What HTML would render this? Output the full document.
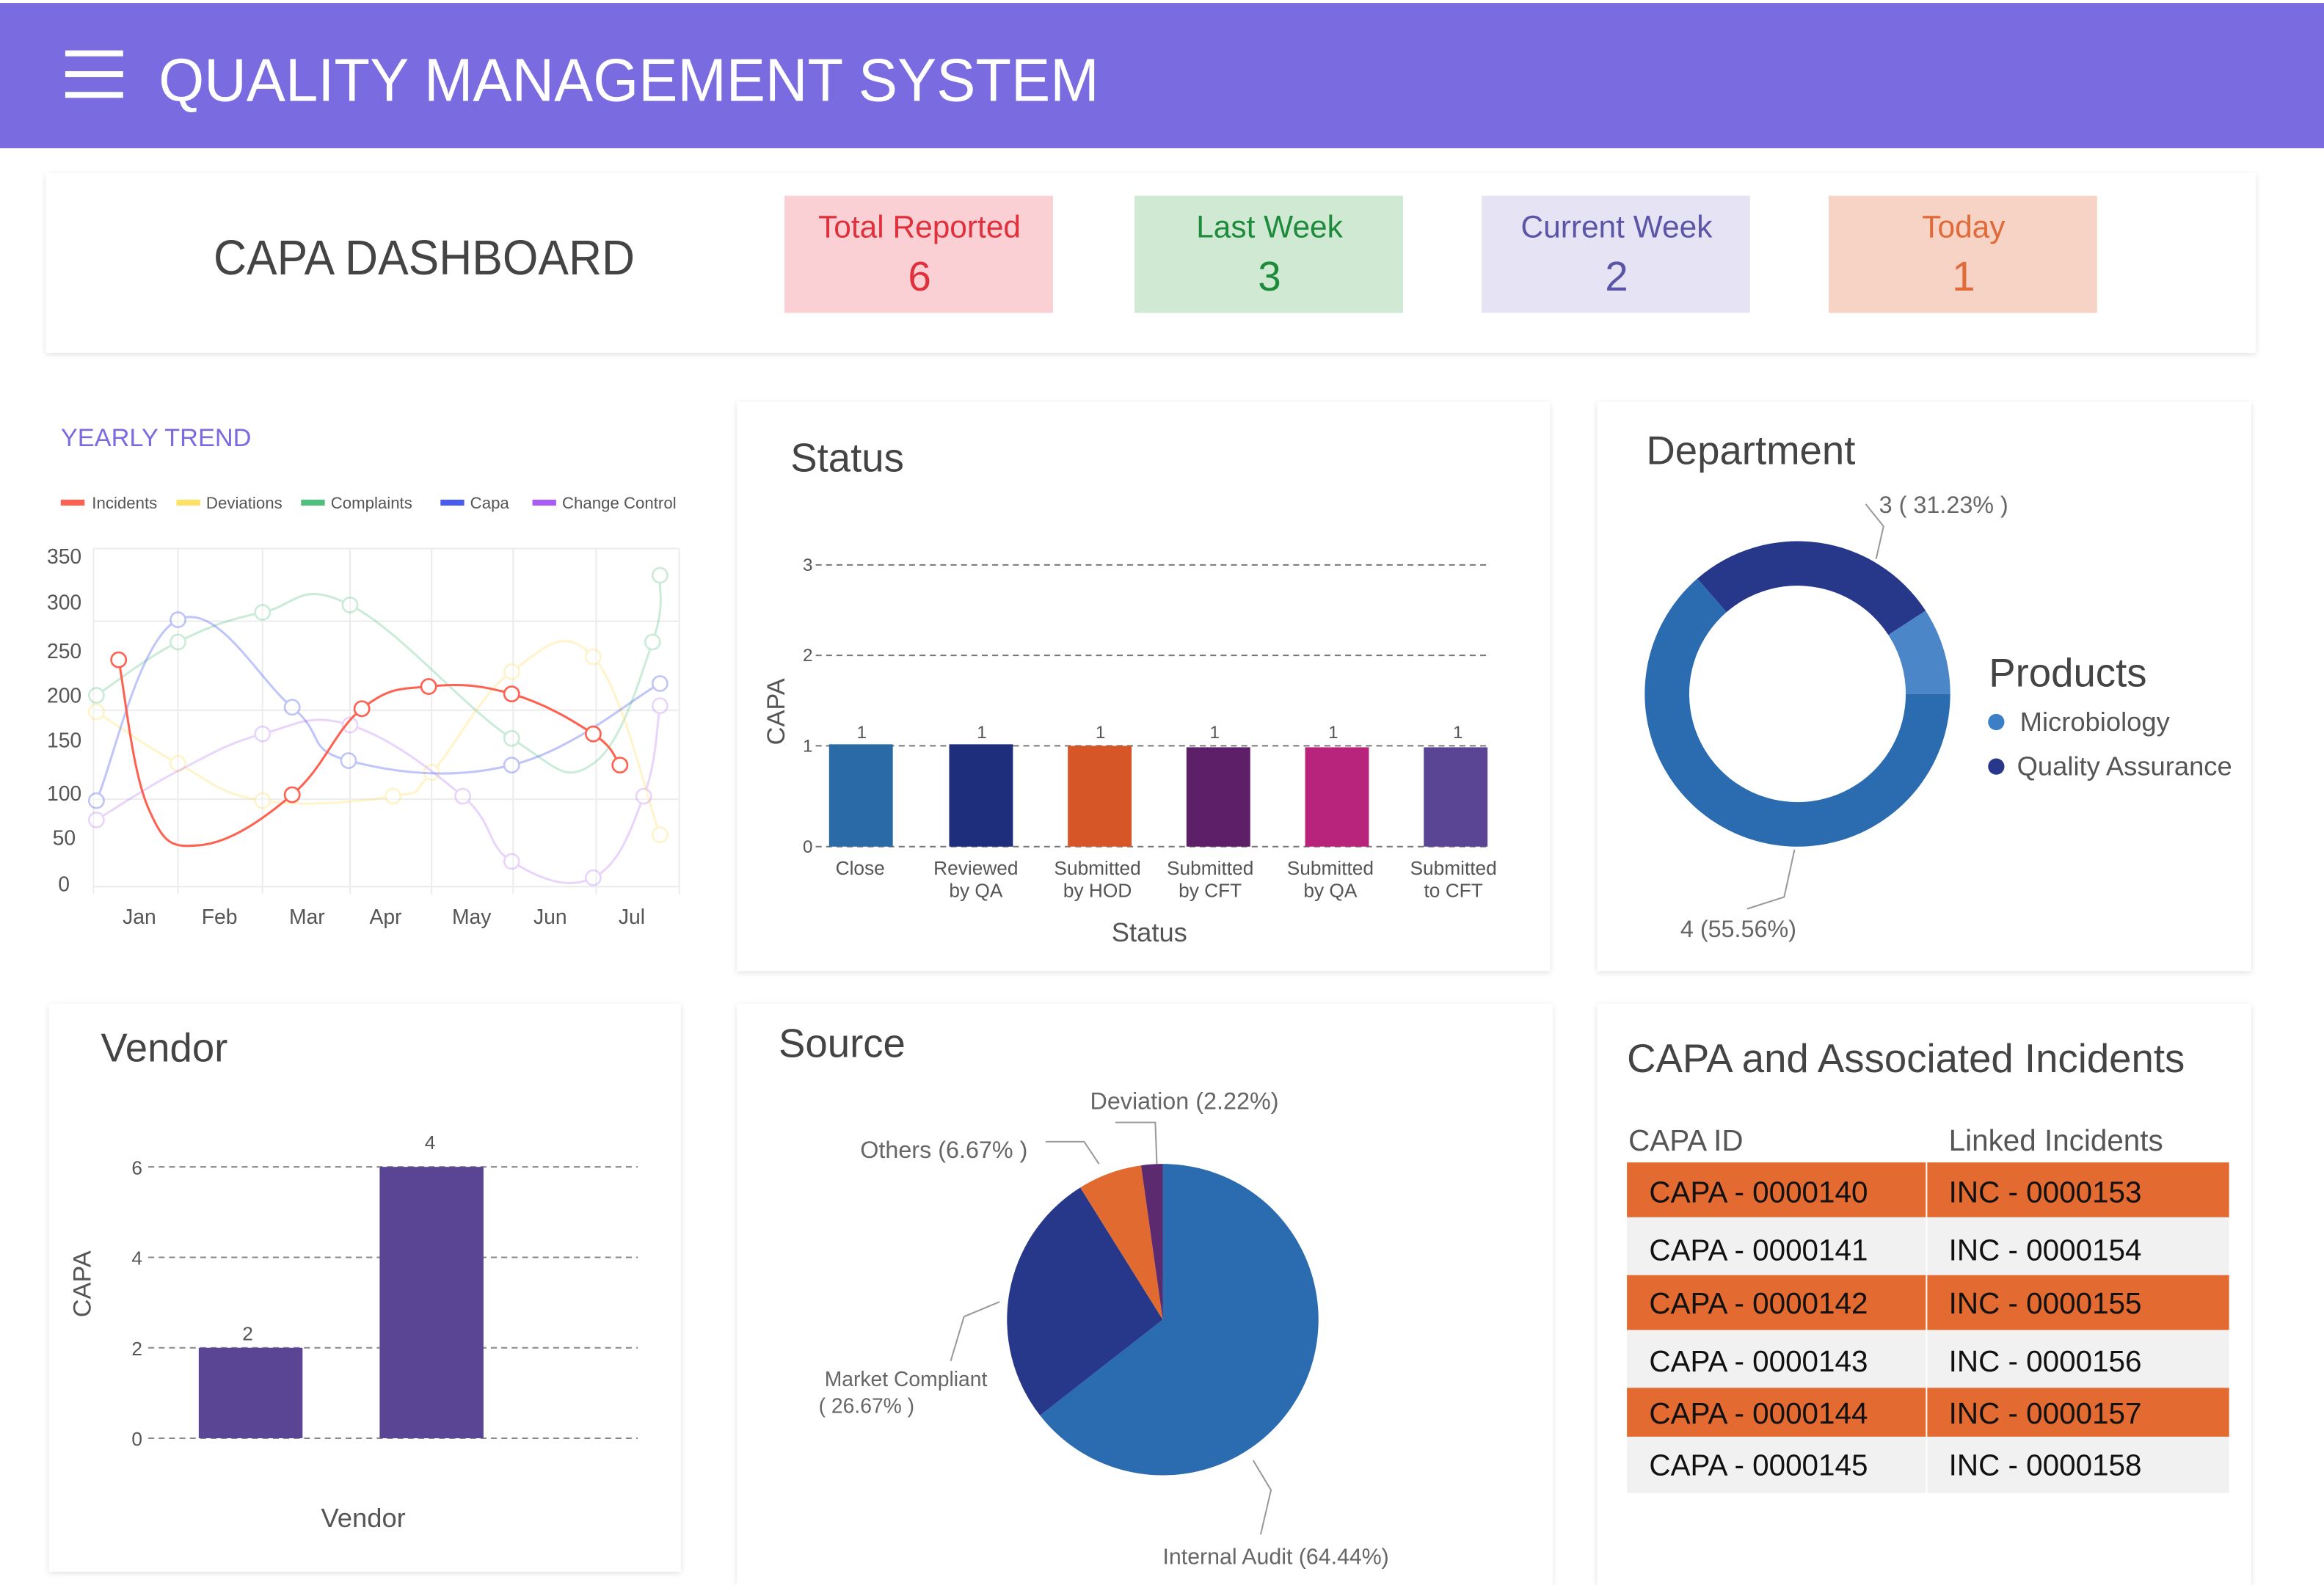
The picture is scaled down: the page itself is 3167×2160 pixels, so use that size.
<!DOCTYPE html>
<html><head><meta charset="utf-8"><style>
html,body{margin:0;padding:0;background:#fff;width:3167px;height:2160px;overflow:hidden}
svg{display:block}
text{font-family:"Liberation Sans",sans-serif}
</style></head><body>
<svg id="s" width="3167" height="2160" viewBox="0 0 1567 1069" preserveAspectRatio="none" xmlns="http://www.w3.org/2000/svg">
<defs><filter id="sh" x="-5%" y="-5%" width="110%" height="115%"><feDropShadow dx="0" dy="1" stdDeviation="2" flood-color="#000" flood-opacity="0.12"/></filter></defs>
<rect x="0" y="0" width="1567" height="1069" fill="#fff"/>
<!-- header -->
<rect x="0" y="2" width="1567" height="98" fill="#7b6be0"/>
<rect x="44" y="34" width="39" height="4" fill="#fff"/><rect x="44" y="48" width="39" height="4" fill="#fff"/><rect x="44" y="62" width="39" height="4" fill="#fff"/>
<text x="107" y="68" font-size="41" fill="#fff" textLength="634" lengthAdjust="spacingAndGlyphs">QUALITY MANAGEMENT SYSTEM</text>
<!-- top card -->
<rect x="31" y="117" width="1490" height="121" fill="#fff" filter="url(#sh)"/>
<text x="286" y="185" font-size="33" fill="#444" text-anchor="middle" textLength="284" lengthAdjust="spacingAndGlyphs">CAPA DASHBOARD</text>
<rect x="529" y="132" width="181" height="79" fill="#fbd0d5"/>
<text x="620" y="160" font-size="21" fill="#e0303c" text-anchor="middle">Total Reported</text>
<text x="620" y="196" font-size="28" fill="#e0303c" text-anchor="middle">6</text>
<rect x="765" y="132" width="181" height="79" fill="#cfe9d3"/>
<text x="856" y="160" font-size="21" fill="#1e8a3c" text-anchor="middle">Last Week</text>
<text x="856" y="196" font-size="28" fill="#1e8a3c" text-anchor="middle">3</text>
<rect x="999" y="132" width="181" height="79" fill="#e6e3f4"/>
<text x="1090" y="160" font-size="21" fill="#5b55a8" text-anchor="middle">Current Week</text>
<text x="1090" y="196" font-size="28" fill="#5b55a8" text-anchor="middle">2</text>
<rect x="1233" y="132" width="181" height="79" fill="#f6d3c5"/>
<text x="1324" y="160" font-size="21" fill="#e06a3a" text-anchor="middle">Today</text>
<text x="1324" y="196" font-size="28" fill="#e06a3a" text-anchor="middle">1</text>

<!-- yearly trend -->
<text x="41" y="301" font-size="17" fill="#7b6be0">YEARLY TREND</text>
<g font-size="11" fill="#555">
<rect x="41" y="337" width="16" height="4" fill="#ff6150"/><text x="62" y="343">Incidents</text>
<rect x="119" y="337" width="16" height="4" fill="#ffe066"/><text x="139" y="343">Deviations</text>
<rect x="203" y="337" width="16" height="4" fill="#4fbf7d"/><text x="223" y="343">Complaints</text>
<rect x="297" y="337" width="16" height="4" fill="#4a5cf0"/><text x="317" y="343">Capa</text>
<rect x="359" y="337" width="16" height="4" fill="#a95cf5"/><text x="379" y="343">Change Control</text>
</g>
<g stroke="#ececec" stroke-width="1">
<line x1="63" y1="370" x2="63" y2="603"/><line x1="120" y1="370" x2="120" y2="603"/><line x1="177" y1="370" x2="177" y2="603"/><line x1="236" y1="370" x2="236" y2="603"/><line x1="291" y1="370" x2="291" y2="603"/><line x1="346" y1="370" x2="346" y2="603"/><line x1="402" y1="370" x2="402" y2="603"/><line x1="458" y1="370" x2="458" y2="603"/>
<line x1="63" y1="370" x2="458" y2="370"/><line x1="63" y1="419" x2="458" y2="419"/><line x1="63" y1="479" x2="458" y2="479"/><line x1="63" y1="539" x2="458" y2="539"/><line x1="63" y1="598" x2="458" y2="598"/>
</g>
<g font-size="14" fill="#555" text-anchor="end">
<text x="55" y="380">350</text><text x="55" y="411">300</text><text x="55" y="444">250</text><text x="55" y="474">200</text><text x="55" y="504">150</text><text x="55" y="540">100</text><text x="51" y="570">50</text><text x="47" y="601">0</text>
</g>
<g font-size="14" fill="#555" text-anchor="middle">
<text x="94" y="623">Jan</text><text x="148" y="623">Feb</text><text x="207" y="623">Mar</text><text x="260" y="623">Apr</text><text x="318" y="623">May</text><text x="371" y="623">Jun</text><text x="426" y="623">Jul</text>
</g>
<g id="lines"></g>

<!-- status card -->
<rect x="497" y="271" width="548" height="384" fill="#fff" filter="url(#sh)"/>
<text x="533" y="318" font-size="27" fill="#444">Status</text>
<g stroke="#777" stroke-width="1" stroke-dasharray="4,3">
<line x1="550" y1="381" x2="1003" y2="381"/><line x1="550" y1="442" x2="1003" y2="442"/><line x1="550" y1="503" x2="1003" y2="503"/><line x1="550" y1="571" x2="1003" y2="571"/>
</g>
<g font-size="12" fill="#555" text-anchor="end"><text x="548" y="385">3</text><text x="548" y="446">2</text><text x="548" y="507">1</text><text x="548" y="575">0</text></g>
<text transform="translate(529,480) rotate(-90)" font-size="17" fill="#555" text-anchor="middle">CAPA</text>
<rect x="559" y="502" width="43" height="69" fill="#2a6aa6"/>
<rect x="640" y="502" width="43" height="69" fill="#1f2d7d"/>
<rect x="720" y="503" width="43" height="68" fill="#d65627"/>
<rect x="800" y="504" width="43" height="67" fill="#5c1f68"/>
<rect x="880" y="504" width="43" height="67" fill="#b8247c"/>
<rect x="960" y="504" width="43" height="67" fill="#5a4494"/>
<g font-size="12" fill="#555" text-anchor="middle">
<text x="581" y="498">1</text><text x="662" y="498">1</text><text x="742" y="498">1</text><text x="819" y="498">1</text><text x="899" y="498">1</text><text x="983" y="498">1</text>
<g font-size="13"><text x="580" y="590">Close</text>
<text x="658" y="590">Reviewed</text><text x="658" y="605">by QA</text>
<text x="740" y="590">Submitted</text><text x="740" y="605">by HOD</text>
<text x="816" y="590">Submitted</text><text x="816" y="605">by CFT</text>
<text x="897" y="590">Submitted</text><text x="897" y="605">by QA</text>
<text x="980" y="590">Submitted</text><text x="980" y="605">to CFT</text></g>
<text x="775" y="635" font-size="18">Status</text>
</g>

<!-- department -->
<rect x="1077" y="271" width="441" height="384" fill="#fff" filter="url(#sh)"/>
<text x="1110" y="313" font-size="27" fill="#444">Department</text>
<g id="donut"></g>
<g stroke="#999" fill="none" stroke-width="1"><polyline points="1258,340 1270,355 1265,377"/><polyline points="1210,573 1203,605 1178,613"/></g>
<text x="1267" y="346" font-size="16" fill="#666">3 ( 31.23% )</text>
<text x="1133" y="632" font-size="16" fill="#666">4 (55.56%)</text>
<text x="1341" y="463" font-size="27" fill="#444">Products</text>
<circle cx="1346" cy="487" r="5.5" fill="#3c7fc6"/><text x="1362" y="493" font-size="18" fill="#555">Microbiology</text>
<circle cx="1346" cy="517" r="5.5" fill="#27378a"/><text x="1360" y="523" font-size="18" fill="#555">Quality Assurance</text>

<!-- vendor -->
<rect x="33" y="677" width="426" height="383" fill="#fff" filter="url(#sh)"/>
<text x="68" y="716" font-size="27" fill="#444">Vendor</text>
<g stroke="#888" stroke-width="1" stroke-dasharray="4,3">
<line x1="100" y1="787" x2="430" y2="787"/><line x1="100" y1="848" x2="430" y2="848"/><line x1="100" y1="909" x2="430" y2="909"/><line x1="100" y1="970" x2="430" y2="970"/>
</g>
<g font-size="13" fill="#555" text-anchor="end"><text x="96" y="792">6</text><text x="96" y="853">4</text><text x="96" y="914">2</text><text x="96" y="975">0</text></g>
<text transform="translate(61,866) rotate(-90)" font-size="17" fill="#555" text-anchor="middle">CAPA</text>
<rect x="134" y="909" width="70" height="61" fill="#5a4494"/>
<rect x="256" y="787" width="70" height="183" fill="#5a4494"/>
<text x="167" y="904" font-size="13" fill="#555" text-anchor="middle">2</text>
<text x="290" y="775" font-size="13" fill="#555" text-anchor="middle">4</text>
<text x="245" y="1030" font-size="18" fill="#555" text-anchor="middle">Vendor</text>

<!-- source -->
<rect x="497" y="677" width="550" height="392" fill="#fff" filter="url(#sh)"/>
<text x="525" y="713" font-size="27" fill="#444">Source</text>
<g id="pie"></g>
<g stroke="#999" fill="none" stroke-width="1">
<polyline points="780,785 779,757 752,757"/><polyline points="741,785 731,770 705,770"/>
<polyline points="674,878 650,888 641,918"/><polyline points="845,985 857,1005 850,1035"/>
</g>
<g font-size="16" fill="#666">
<text x="735" y="748">Deviation (2.22%)</text>
<text x="580" y="781">Others (6.67% )</text>
<text x="556" y="935" font-size="14">Market Compliant</text>
<text x="552" y="953" font-size="14">( 26.67% )</text>
<text x="784" y="1055" font-size="15">Internal Audit (64.44%)</text>
</g>

<!-- table -->
<rect x="1077" y="677" width="441" height="392" fill="#fff" filter="url(#sh)"/>
<text x="1097" y="723" font-size="27" fill="#444">CAPA and Associated Incidents</text>
<text x="1098" y="776" font-size="20" fill="#555">CAPA ID</text>
<text x="1314" y="776" font-size="20" fill="#555">Linked Incidents</text>
<rect x="1097" y="784" width="406" height="37" fill="#e36a30"/>
<rect x="1097" y="821" width="406" height="39" fill="#f1f1f1"/>
<rect x="1097" y="860" width="406" height="37" fill="#e36a30"/>
<rect x="1097" y="897" width="406" height="39" fill="#f1f1f1"/>
<rect x="1097" y="936" width="406" height="33" fill="#e36a30"/>
<rect x="1097" y="969" width="406" height="38" fill="#f1f1f1"/>
<line x1="1299" y1="784" x2="1299" y2="1007" stroke="#fff" stroke-width="1"/>
<g font-size="20" fill="#111">
<text x="1112" y="811">CAPA - 0000140</text><text x="1314" y="811">INC - 0000153</text>
<text x="1112" y="850">CAPA - 0000141</text><text x="1314" y="850">INC - 0000154</text>
<text x="1112" y="886">CAPA - 0000142</text><text x="1314" y="886">INC - 0000155</text>
<text x="1112" y="925">CAPA - 0000143</text><text x="1314" y="925">INC - 0000156</text>
<text x="1112" y="960">CAPA - 0000144</text><text x="1314" y="960">INC - 0000157</text>
<text x="1112" y="995">CAPA - 0000145</text><text x="1314" y="995">INC - 0000158</text>
</g>
</svg>
<script>
var NS="http://www.w3.org/2000/svg";
function el(p,t,a){var e=document.createElementNS(NS,t);for(var k in a)e.setAttribute(k,a[k]);p.appendChild(e);return e;}
function cr(pts){var d="M"+pts[0][0]+","+pts[0][1];for(var i=0;i<pts.length-1;i++){var p0=pts[i-1]||pts[i],p1=pts[i],p2=pts[i+1],p3=pts[i+2]||p2;var t=0.4/ 1;
var c1=[p1[0]+(p2[0]-p0[0])*t/2.4*1.2,p1[1]+(p2[1]-p0[1])*t/2.4*1.2],c2=[p2[0]-(p3[0]-p1[0])*t/2.4*1.2,p2[1]-(p3[1]-p1[1])*t/2.4*1.2];
d+=" C"+c1+" "+c2+" "+p2;}return d;}
var L=document.getElementById("lines");
var series=[
["#4fbf7d",0.3,[[65,469],[120,433],[177,413],[236,408],[345,498],[400,515],[440,433],[445,388]],[0,1,2,3,4,6,7]],
["#ffe066",0.35,[[65,480],[120,515],[177,540],[265,537],[291,521],[345,453],[400,443],[445,563]],[0,1,2,3,4,5,6,7]],
["#a95cf5",0.25,[[65,553],[120,520],[177,495],[236,489],[312,537],[345,581],[400,592],[434,537],[445,476]],[0,2,3,4,5,6,7,8]],
["#4a5cf0",0.35,[[65,540],[120,418],[197,477],[235,513],[345,516],[445,461]],[0,1,2,3,4,5]],
["#ff6150",1,[[80,445],[100,545],[135,570],[197,536],[244,478],[289,463],[345,468],[400,495],[418,516]],[0,3,4,5,6,7,8]]
];
series.forEach(function(s){var g=el(L,"g",{opacity:s[1]});el(g,"path",{d:cr(s[2]),fill:"none",stroke:s[0],"stroke-width":1.5});
s[3].forEach(function(i){el(g,"circle",{cx:s[2][i][0],cy:s[2][i][1],r:5,fill:"#fff",stroke:s[0],"stroke-width":1.3});});});
function arc(cx,cy,r,ri,a0,a1,col,p){var R=Math.PI/180;function P(rr,a){return [cx+rr*Math.cos(a*R),cy+rr*Math.sin(a*R)];}
var lg=(a1-a0)>180?1:0;var s=P(r,a0),e=P(r,a1);var d="M"+s+" A"+r+","+r+" 0 "+lg+" 1 "+e;
if(ri>0){var s2=P(ri,a1),e2=P(ri,a0);d+=" L"+s2+" A"+ri+","+ri+" 0 "+lg+" 0 "+e2+"Z";}else d+=" L"+cx+","+cy+"Z";
el(p,"path",{d:d,fill:col});}
var D=document.getElementById("donut");
arc(1212,468,103,73,-131,-33,"#27378a",D);arc(1212,468,103,73,-33,0,"#4a86c8",D);arc(1212,468,103,73,0,229,"#2b6cb0",D);
var P=document.getElementById("pie");
arc(784,890,105,0,-90,142,"#2b6cb0",P);arc(784,890,105,0,142,238,"#27378a",P);arc(784,890,105,0,238,262,"#e06a30",P);arc(784,890,105,0,262,270,"#5c2a6e",P);
</script>
</body></html>
